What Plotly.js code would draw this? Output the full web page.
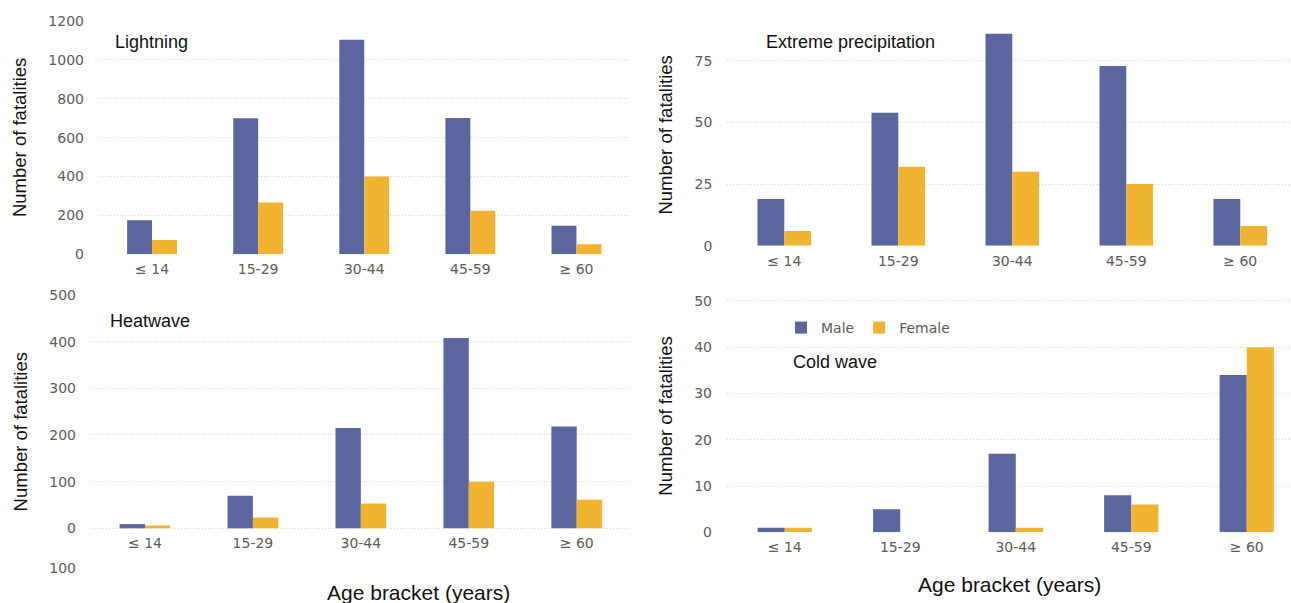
<!DOCTYPE html>
<html>
<head>
<meta charset="utf-8">
<script src="https://cdn.plot.ly/plotly-3.0.1.min.js"></script>
<style>
html,body{margin:0;padding:0;background:#fff;}
#chart{width:1291px;height:603px;}
</style>
</head>
<body>
<div id="chart"></div>
<script>
// ---- data ----
const categories = ['≤ 14', '15-29', '30-44', '45-59', '≥ 60'];
const lightningMale   = [175, 700, 1103, 701, 147];
const lightningFemale = [74, 267, 400, 224, 52];
const precipMale      = [19, 54, 86, 73, 19];
const precipFemale    = [6, 32, 30, 25, 8];
const heatMale        = [9, 70, 215, 408, 218];
const heatFemale      = [6, 23, 53, 100, 61];
const coldMale        = [1, 5, 17, 8, 34];
const coldFemale      = [1, 0, 1, 6, 40];
const seriesNames = ['Male', 'Female'];
const panelTitles = ['Lightning', 'Extreme precipitation', 'Heatwave', 'Cold wave'];
const yTitle = 'Number of fatalities';
const xTitle = 'Age bracket (years)';
const heatTickVals = [-86, 0, 100, 200, 300, 400, 500];
const heatTickText = ['100', '0', '100', '200', '300', '400', '500'];

const MALE = '#5b669e';
const FEMALE = '#f0b432';
const tickColor = '#625955';
const tickFont = {family: 'DejaVu Sans', size: 14, color: tickColor};
const titleFont = {family: 'Liberation Sans, Arial', size: 18.5, color: '#111'};

const panels = [
  {m: lightningMale, f: lightningFemale, xa: 'x',  ya: 'y'},
  {m: precipMale,    f: precipFemale,    xa: 'x2', ya: 'y2'},
  {m: heatMale,      f: heatFemale,      xa: 'x3', ya: 'y3'},
  {m: coldMale,      f: coldFemale,      xa: 'x4', ya: 'y4'}
];

const traces = [];
panels.forEach((p, i) => {
  const show = (i === 3);
  traces.push({type: 'bar', x: categories, y: p.m, name: seriesNames[0], marker: {color: MALE},
    xaxis: p.xa, yaxis: p.ya, showlegend: show, legendgroup: 'm', hoverinfo: 'skip'});
  traces.push({type: 'bar', x: categories, y: p.f, name: seriesNames[1], marker: {color: FEMALE},
    xaxis: p.xa, yaxis: p.ya, showlegend: show, legendgroup: 'f', hoverinfo: 'skip'});
});

const W = 1291, H = 603;
const px = v => v / W;
const py = v => 1 - v / H;

function xax(d0, d1, r1, anchor, extra) {
  return Object.assign({domain: [d0, d1], range: [-0.5, r1], anchor: anchor, type: 'category',
    showgrid: false, zeroline: false, showline: false, ticks: '', tickfont: tickFont,
    ticklabelstandoff: 5, fixedrange: true}, extra || {});
}
function yax(d0, d1, range, anchor, extra) {
  return Object.assign({domain: [d0, d1], range: range, anchor: anchor,
    showgrid: true, gridcolor: '#d4d4d4', griddash: '1px,2px', gridwidth: 1,
    zeroline: false, showline: false, ticks: '', tickfont: tickFont,
    ticklabelstandoff: 14, fixedrange: true,
    title: {text: yTitle, font: titleFont, standoff: 16}}, extra || {});
}

const layout = {
  width: W, height: H,
  margin: {l: 0, r: 0, t: 0, b: 0},
  paper_bgcolor: '#ffffff', plot_bgcolor: '#ffffff',
  barmode: 'group', bargap: 0.53, bargroupgap: 0,
  font: {family: 'DejaVu Sans', color: tickColor},
  xaxis:  xax(px(99), px(629.5), 4.5, 'y'),
  yaxis:  yax(py(254.3), py(20.4), [0, 1203], 'x', {tickvals: [0, 200, 400, 600, 800, 1000, 1200]}),
  xaxis2: xax(px(727.3), 1, 4.445, 'y2'),
  yaxis2: yax(py(245.7), py(24), [0, 90], 'x2', {tickvals: [0, 25, 50, 75]}),
  xaxis3: xax(px(91), px(630.7), 4.5, 'free', {overlaying: false, position: py(528.3)}),
  yaxis3: yax(py(568.9), py(294.5), [-87, 501], 'x3', {tickvals: heatTickVals, ticktext: heatTickText}),
  xaxis4: xax(px(727), 1, 4.383, 'y4'),
  yaxis4: yax(py(532.3), py(299.6), [0, 50.3], 'x4', {tickvals: [0, 10, 20, 30, 40, 50]}),
  showlegend: true,
  legend: {orientation: 'h', x: px(781), y: py(312), xanchor: 'left', yanchor: 'top',
    bgcolor: 'rgba(0,0,0,0)', font: {family: 'DejaVu Sans', size: 14, color: tickColor},
    traceorder: 'normal'},
  annotations: [
    {text: panelTitles[0], x: px(113), y: py(42), xref: 'paper', yref: 'paper', xanchor: 'left', yanchor: 'middle', showarrow: false, font: {family: 'Liberation Sans, Arial', size: 18, color: '#111'}},
    {text: panelTitles[1], x: px(764), y: py(42), xref: 'paper', yref: 'paper', xanchor: 'left', yanchor: 'middle', showarrow: false, font: {family: 'Liberation Sans, Arial', size: 18, color: '#111'}},
    {text: panelTitles[2], x: px(108), y: py(321), xref: 'paper', yref: 'paper', xanchor: 'left', yanchor: 'middle', showarrow: false, font: {family: 'Liberation Sans, Arial', size: 18, color: '#111'}},
    {text: panelTitles[3], x: px(791), y: py(362), xref: 'paper', yref: 'paper', xanchor: 'left', yanchor: 'middle', showarrow: false, font: {family: 'Liberation Sans, Arial', size: 18, color: '#111'}},
    {text: xTitle, x: px(418.5), y: py(592), xref: 'paper', yref: 'paper', xanchor: 'center', yanchor: 'middle', showarrow: false, font: {family: 'Liberation Sans, Arial', size: 21, color: '#111'}},
    {text: xTitle, x: px(1009), y: py(584), xref: 'paper', yref: 'paper', xanchor: 'center', yanchor: 'middle', showarrow: false, font: {family: 'Liberation Sans, Arial', size: 21, color: '#111'}}
  ]
};

Plotly.newPlot('chart', traces, layout, {staticPlot: true, displayModeBar: false});
</script>
</body>
</html>
